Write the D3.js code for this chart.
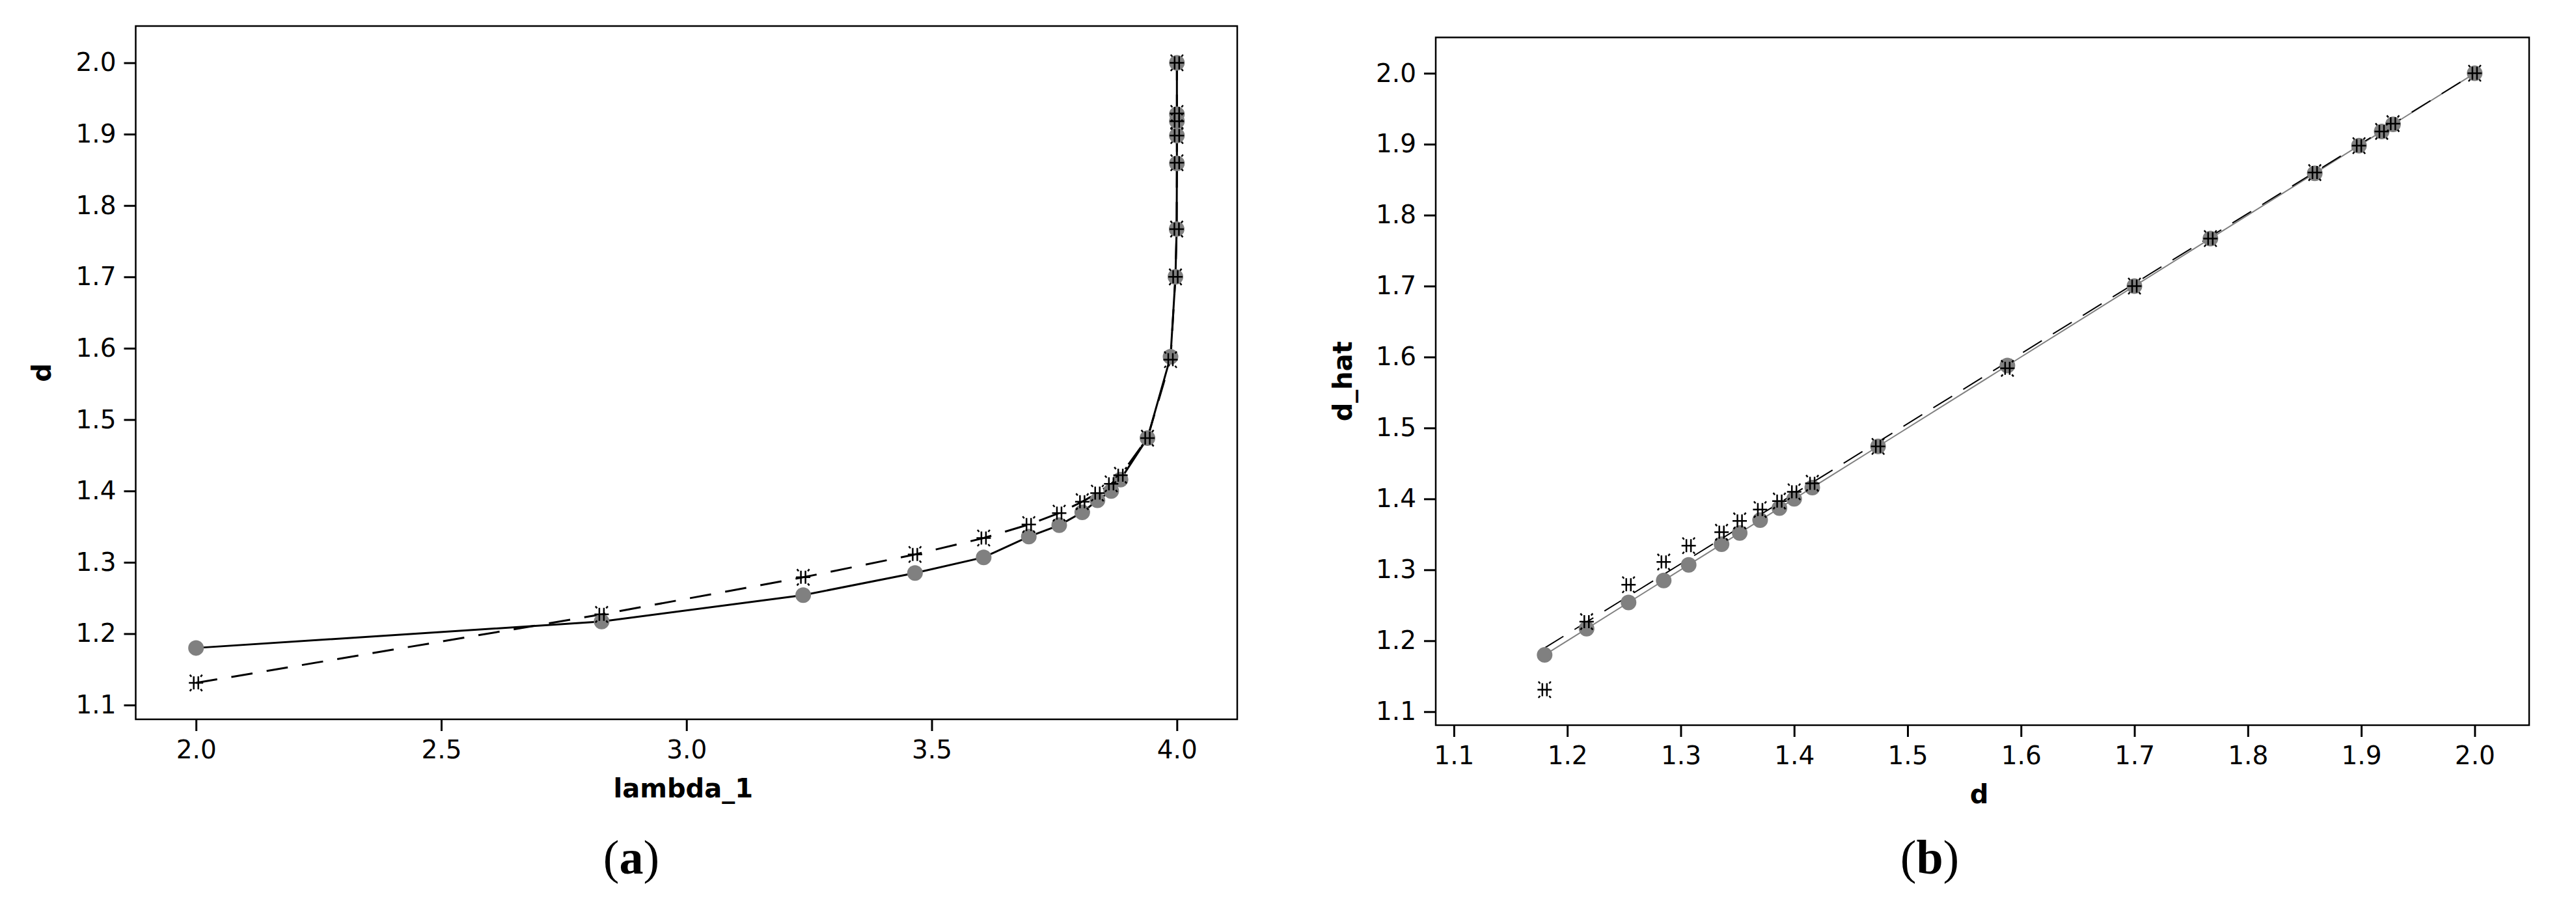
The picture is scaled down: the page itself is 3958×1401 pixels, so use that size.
<!DOCTYPE html>
<html>
<head>
<meta charset="utf-8">
<script src="https://cdn.jsdelivr.net/npm/d3@7"></script>
<style>
  body { margin: 0; background: #fff; }
  svg text { font-family: "DejaVu Sans", Verdana, sans-serif; }
</style>
</head>
<body>
<svg></svg>
<script>
const lambda1 = [2.0, 2.827, 3.238, 3.466, 3.606, 3.698, 3.760, 3.807, 3.838, 3.866, 3.885, 3.940, 3.987, 3.997, 3.9995, 4.0, 4.0, 4.0, 4.0, 4.0];
const dTrue = [1.180, 1.217, 1.254, 1.285, 1.307, 1.336, 1.352, 1.370, 1.387, 1.400, 1.416, 1.474, 1.588, 1.700, 1.767, 1.859, 1.898, 1.918, 1.928, 2.000];
const dHat = [1.131, 1.227, 1.279, 1.311, 1.334, 1.353, 1.369, 1.385, 1.397, 1.410, 1.422, 1.474, 1.584, 1.700, 1.767, 1.860, 1.898, 1.918, 1.929, 2.000];
const lambdaTicks = [2.0, 2.5, 3.0, 3.5, 4.0];
const dTicks = [1.1, 1.2, 1.3, 1.4, 1.5, 1.6, 1.7, 1.8, 1.9, 2.0];

const svgWidth = 3958;
const svgHeight = 1401;

const svg = d3.select("svg")
    .attr("width", svgWidth)
    .attr("height", svgHeight);

svg.append("rect")
    .attr("width", svgWidth)
    .attr("height", svgHeight)
    .attr("fill", "white");

const starPath = "M-11,0H11M-3.5,-10V10M3.5,-10V10M-9.5,-12.5L-7,-9.5M9.5,-12.5L7,-9.5M-9.5,12.5L-7,9.5M9.5,12.5L7,9.5";
const fmt = d3.format(".1f");

function drawPanel(opt) {
    const x = d3.scaleLinear().domain(opt.xDomain).range(opt.xRange);
    const y = d3.scaleLinear().domain(opt.yDomain).range(opt.yRange);
    const g = svg.append("g");

    const xAxis = g.append("g")
        .attr("transform", `translate(0,${opt.yRange[0]})`)
        .call(d3.axisBottom(x).tickValues(opt.xTicks).tickFormat(fmt)
            .tickSize(18).tickSizeOuter(0).tickPadding(14));
    const yAxis = g.append("g")
        .attr("transform", `translate(${opt.xRange[0]},0)`)
        .call(d3.axisLeft(y).tickValues(opt.yTicks).tickFormat(fmt)
            .tickSize(18).tickSizeOuter(0).tickPadding(12));

    [xAxis, yAxis].forEach(a => {
        a.select(".domain").remove();
        a.selectAll(".tick line").attr("stroke", "black").attr("stroke-width", 3);
        a.selectAll(".tick text")
            .attr("fill", "black")
            .style("font-size", "39px")
            .style("font-family", "DejaVu Sans, Verdana, sans-serif");
    });

    g.append("rect")
        .attr("x", opt.xRange[0])
        .attr("y", opt.yRange[1])
        .attr("width", opt.xRange[1] - opt.xRange[0])
        .attr("height", opt.yRange[0] - opt.yRange[1])
        .attr("fill", "none")
        .attr("stroke", "black")
        .attr("stroke-width", 2.5);

    const line = d3.line().x(d => x(d[0])).y(d => y(d[1]));

    opt.lines.forEach(l => {
        g.append("path")
            .datum(l.data)
            .attr("d", line)
            .attr("fill", "none")
            .attr("stroke", l.color)
            .attr("stroke-width", l.width)
            .attr("stroke-dasharray", l.dash || null);
    });

    g.selectAll("circle")
        .data(opt.circles)
        .enter().append("circle")
        .attr("cx", d => x(d[0]))
        .attr("cy", d => y(d[1]))
        .attr("r", 12)
        .attr("fill", "#808080");

    g.selectAll("path.star")
        .data(opt.stars)
        .enter().append("path")
        .attr("class", "star")
        .attr("d", starPath)
        .attr("transform", d => `translate(${x(d[0])},${y(d[1])})`)
        .attr("fill", "none")
        .attr("stroke", "black")
        .attr("stroke-width", 2.5);

    g.append("text")
        .attr("x", (opt.xRange[0] + opt.xRange[1]) / 2 - 5)
        .attr("y", opt.xTitleY)
        .attr("text-anchor", "middle")
        .style("font-size", "40px")
        .style("font-weight", "bold")
        .text(opt.xTitle);

    g.append("text")
        .attr("transform", `translate(${opt.yTitleX},${(opt.yRange[0] + opt.yRange[1]) / 2}) rotate(-90)`)
        .attr("text-anchor", "middle")
        .style("font-size", "40px")
        .style("font-weight", "bold")
        .text(opt.yTitle);

    const cap = svg.append("text")
        .attr("x", opt.captionX)
        .attr("y", 1342)
        .attr("text-anchor", "middle")
        .style("font-family", "Liberation Serif, Times New Roman, serif")
        .style("font-size", "74px");
    cap.append("tspan").text("(");
    cap.append("tspan").style("font-weight", "bold").text(opt.caption);
    cap.append("tspan").text(")");
}

const circlesA = lambda1.map((l, i) => [l, dTrue[i]]);
const starsA = lambda1.map((l, i) => [l, dHat[i]]);

drawPanel({
    xDomain: [1.877, 4.123], xRange: [208.5, 1901],
    yDomain: [1.08, 2.0515], yRange: [1105, 40],
    xTicks: lambdaTicks, yTicks: dTicks,
    lines: [
        { data: circlesA, color: "black", width: 3 },
        { data: starsA, color: "black", width: 3, dash: "33,22" }
    ],
    circles: circlesA, stars: starsA,
    xTitle: "lambda_1", xTitleY: 1225,
    yTitle: "d", yTitleX: 78,
    caption: "a", captionX: 970
});

// least squares fit of d_hat on d
const meanX = d3.mean(dTrue);
const meanY = d3.mean(dHat);
const slope = d3.sum(dTrue, (v, i) => (v - meanX) * (dHat[i] - meanY)) / d3.sum(dTrue, v => (v - meanX) * (v - meanX));
const intercept = meanY - slope * meanX;
const fitLine = d3.extent(dTrue).map(v => [v, intercept + slope * v]);

const circlesB = dTrue.map(v => [v, v]);
const starsB = dTrue.map((v, i) => [v, dHat[i]]);

drawPanel({
    xDomain: [1.084, 2.048], xRange: [2206, 3886],
    yDomain: [1.081, 2.0505], yRange: [1114, 57.5],
    xTicks: dTicks, yTicks: dTicks,
    lines: [
        { data: circlesB, color: "#808080", width: 2 },
        { data: fitLine, color: "black", width: 2, dash: "34,20" }
    ],
    circles: circlesB, stars: starsB,
    xTitle: "d", xTitleY: 1234,
    yTitle: "d_hat", yTitleX: 2077,
    caption: "b", captionX: 2965
});
</script>
</body>
</html>
